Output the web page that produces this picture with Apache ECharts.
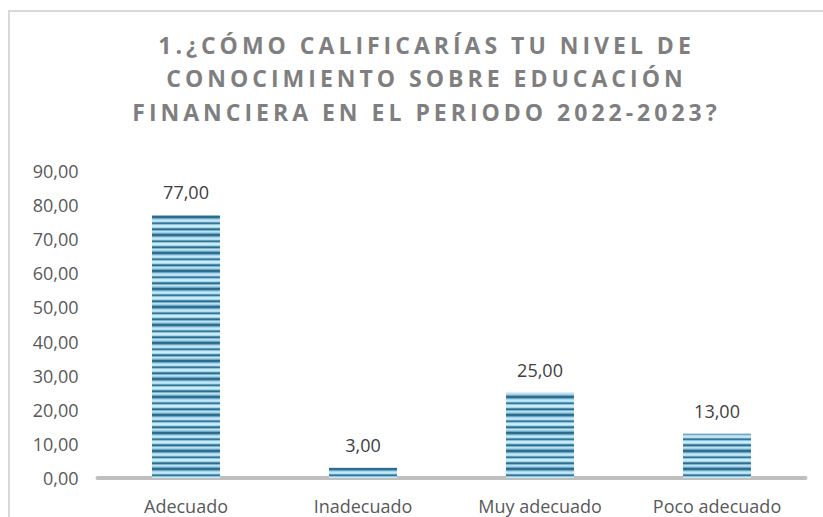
<!DOCTYPE html>
<html>
<head>
<meta charset="utf-8">
<script src="https://cdn.jsdelivr.net/npm/echarts@6/dist/echarts.min.js"></script>
<style>
  html, body { margin: 0; padding: 0; background: #fff; }
  #chart { width: 823px; height: 517px; }
</style>
</head>
<body>
<div id="chart"></div>
<script>
// chart data
const categories = ['Adecuado', 'Inadecuado', 'Muy adecuado', 'Poco adecuado']
const values = [77, 3, 25, 13]
const titleLines = [
  '1.¿CÓMO CALIFICARÍAS TU NIVEL DE',
  'CONOCIMIENTO SOBRE EDUCACIÓN',
  'FINANCIERA EN EL PERIODO 2022-2023?'
]
const yMax = 90
const yStep = 10

const fmt = (v) => Number(v).toFixed(2).replace('.', ',')

// striped fill for the bars (irregular bands like the original)
const stripeRows = [
  '#2b6a89', '#2f7090', '#6aa6c3', '#a9d6ea', '#c4e8f7', '#b3dcee',
  '#5f9cba', '#357594', '#8fc4dc', '#c6e9f8', '#cdeefb', '#a6d4e8',
  '#4d8cab', '#2d6c8b', '#7bb4cf', '#bde3f3', '#a0cfe4', '#6ea8c4'
]
const stripe = document.createElement('canvas')
stripe.width = 4
stripe.height = stripeRows.length
const sctx = stripe.getContext('2d')
stripeRows.forEach((c, i) => {
  sctx.fillStyle = c
  sctx.fillRect(0, i, 4, 1)
})

const chart = echarts.init(document.getElementById('chart'), null, { renderer: 'svg' })

const option = {
  backgroundColor: '#fff',
  animation: false,
  title: {
    text: titleLines.join('\n'),
    left: 'center',
    top: 23,
    textStyle: {
      color: '#7f7f7f',
      fontFamily: 'Open Sans',
      fontWeight: 'bold',
      fontSize: 23,
      lineHeight: 33.5,
    },
  },
  graphic: [
    {
      type: 'polyline',
      shape: { points: [[9, 517], [9, 11], [823, 11]] },
      style: { stroke: '#d9d9d9', lineWidth: 2, fill: null },
      silent: true,
    },
  ],
  grid: {
    left: 97.5,
    right: 17.5,
    top: 171,
    bottom: 39,
  },
  xAxis: {
    type: 'category',
    data: categories,
    axisLine: { lineStyle: { color: '#bfbfbf', width: 4 } },
    axisTick: { show: false },
    axisLabel: {
      color: '#595959',
      fontFamily: 'Open Sans',
      fontSize: 18,
      margin: 19,
    },
  },
  yAxis: {
    type: 'value',
    min: 0,
    max: yMax,
    interval: yStep,
    axisLine: { show: false },
    axisTick: { show: false },
    splitLine: { show: false },
    axisLabel: {
      color: '#595959',
      fontFamily: 'Open Sans',
      fontSize: 18,
      margin: 19,
      formatter: fmt,
    },
  },
  series: [
    {
      type: 'bar',
      data: values,
      barWidth: '38.4%',
      itemStyle: {
        color: { image: stripe, repeat: 'repeat' },
      },
      label: {
        show: true,
        position: 'top',
        distance: 14,
        color: '#404040',
        fontFamily: 'Open Sans',
        fontSize: 18,
        formatter: (p) => fmt(p.value),
      },
    },
  ],
}

chart.setOption(option)

// title has wide letter spacing; nudge it right like the original
document.querySelectorAll('#chart text').forEach((t) => {
  if (titleLines.includes(t.textContent)) {
    t.style.letterSpacing = '4px'
    t.setAttribute('dx', '15')
  }
})
</script>
</body>
</html>
